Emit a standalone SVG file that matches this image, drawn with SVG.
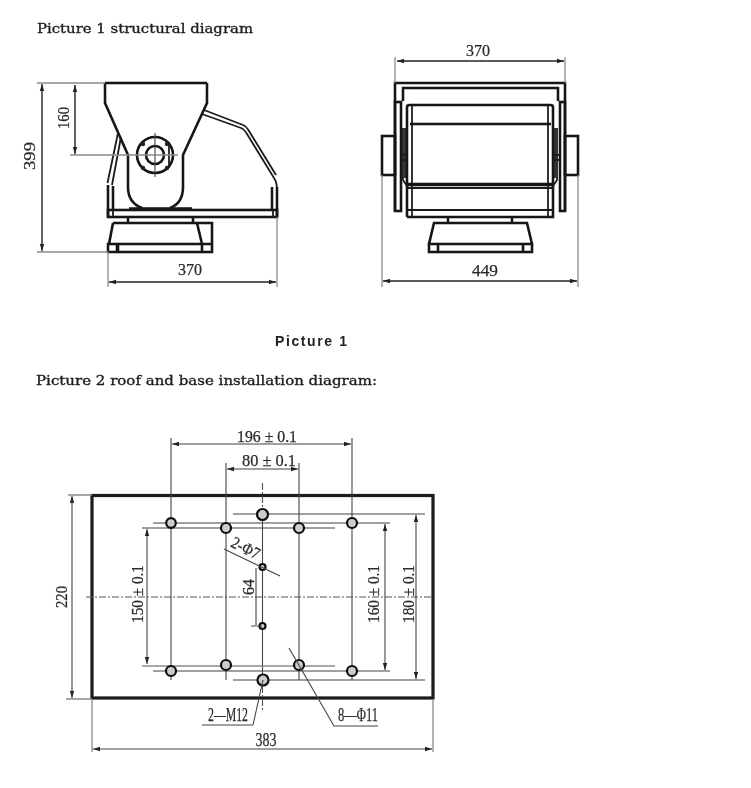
<svg xmlns="http://www.w3.org/2000/svg" width="751" height="788" viewBox="0 0 751 788">
<style>
.o{fill:none;stroke:#1c1c1c;stroke-width:1.8}
.t{fill:none;stroke:#151515;stroke-width:2.6}
.d{fill:none;stroke:#444;stroke-width:1.1}
.k{fill:none;stroke:#222;stroke-width:1.4}
.g{fill:none;stroke:#8a8a8a;stroke-width:1.3}
.c{fill:none;stroke:#555;stroke-width:1.1;stroke-dasharray:7 2 2 2}
.h{fill:#ccc;stroke:#111;stroke-width:2.2}
.a{marker-start:url(#as);marker-end:url(#ae)}
text{font-family:"Liberation Serif","Times New Roman",serif;fill:#2a2a2a;stroke:#2a2a2a;stroke-width:.25}
.n{font-size:17px;text-anchor:middle}
.b{font-size:19px;text-anchor:middle}
.title{font-family:"DejaVu Serif",serif;font-size:13.500px;fill:#1c1c1c;stroke:#1c1c1c;stroke-width:.35}
</style>
<defs>
<marker id="ae" viewBox="0 0 7 6" refX="7" refY="3" markerWidth="7" markerHeight="6" markerUnits="userSpaceOnUse" orient="auto"><path d="M7 3L0 .8V5.200Z" fill="#222"/></marker>
<marker id="as" viewBox="0 0 7 6" refX="0" refY="3" markerWidth="7" markerHeight="6" markerUnits="userSpaceOnUse" orient="auto"><path d="M0 3L7 .8V5.200Z" fill="#222"/></marker>
<filter id="s" x="-2%" y="-2%" width="104%" height="104%"><feGaussianBlur stdDeviation="0.4"/></filter>
</defs>
<rect width="751" height="788" fill="#fff"/>
<g filter="url(#s)">
<text class="title" x="37" y="33" textLength="216" lengthAdjust="spacingAndGlyphs">Picture 1 structural diagram</text>
<text x="275" y="346" style="font-family:'Liberation Sans',sans-serif;font-weight:bold;font-size:14px;fill:#222;stroke:none" textLength="72">Picture 1</text>
<text class="title" x="36" y="385" textLength="341" lengthAdjust="spacingAndGlyphs">Picture 2 roof and base installation diagram:</text>

<g id="side-view">
<path class="t" d="M105 83H207M105 83V103L128 155V187C128 198 134 205 142 208M207 83V103L183 155V187C183 198 178 205 170 208"/>
<path class="o" d="M202 114L241 128Q244 129 247 134L274 178Q277 182 277 190M204 110L243 125Q246 126 249 131L276 175"/>
<path class="o" d="M118 133L107.500 183M121 137L112 185"/>
<path class="t" d="M108 185V217M277 187V217M113 186V210M272 187V210"/>
<rect class="t" x="108" y="210" width="169" height="7"/>
<path class="o" d="M113 210V217M273 210V217"/>
<path class="t" d="M128 217V223M193 217V223M129 208.500H192"/>
<path class="t" d="M113 223H212V252H108V244H212M113 223L109 244"/>
<path class="t" d="M197 223L202 244M117 244V252M118 244V252M202 244V252"/>
<circle class="t" cx="155" cy="155" r="18"/>
<circle class="t" cx="155" cy="155" r="9"/>
<circle cx="143" cy="144" r="2.200" fill="#222"/><circle cx="167" cy="144" r="2.200" fill="#222"/><circle cx="143" cy="168" r="2.200" fill="#222"/><circle cx="167" cy="168" r="2.200" fill="#222"/>
<path class="o" d="M169 142V168"/>
<path class="d" d="M155 133V177"/>
</g>

<g id="front-view">
<path class="t" d="M395 211V83H565V211"/>
<path class="t" d="M403 101V88H558V101"/>
<rect class="t" x="395" y="102" width="6" height="109"/>
<rect class="t" x="560" y="102" width="5" height="109"/>
<rect class="t" x="382" y="136" width="13" height="39"/>
<rect class="t" x="565" y="136" width="13" height="39"/>
<path class="t" d="M407 217V107Q407 105 410 105H550Q553 105 553 107V217H407"/>
<path class="o" d="M412 105V217M548 105V217M407 210H553"/>
<path class="t" d="M410 124H551"/>
<path style="fill:none;stroke:#151515;stroke-width:3.500" d="M407 184.500H553"/>
<path class="o" d="M407 188H553"/>
<path class="o" d="M403 128V180L407 186M557 128V180L553 186M401 155H407M553 155H559M401 160H407M553 160H559M405 128V178M555 128V178"/>
<path class="t" d="M448 217V223M512 217V223"/>
<path class="t" d="M434 223H527L532 244H429ZM429 244H532V252H429ZM438 244V252M523 244V252"/>
</g>

<g id="plan">
<rect x="92" y="495.500" width="341" height="202.500" fill="none" stroke="#1a1a1a" stroke-width="3.200"/>
<path class="c" d="M86 597H436"/>
<path class="c" d="M262.500 483V514M262.500 686V712"/>
<path class="d" d="M171 438V680M352 438V680M226 463V680M299 463V680M262.500 514V680"/>
<path class="d" d="M233 514H425M142 528H335M153 523H390M153 671H390M233 680H425"/>
<path class="g" d="M142 666H335"/>
<g id="holes">
<circle class="h" cx="171" cy="523" r="4.800"/><circle class="h" cx="352" cy="523" r="5"/>
<circle class="h" cx="226" cy="528" r="5"/><circle class="h" cx="299" cy="528" r="5"/>
<circle class="h" cx="262.500" cy="514.500" r="5.500"/><circle class="h" cx="171" cy="671" r="5"/>
<circle class="h" cx="352" cy="671" r="5"/><circle class="h" cx="226" cy="665" r="5"/>
<circle class="h" cx="299" cy="665" r="5"/><circle class="h" cx="263" cy="680" r="5.500"/>
<circle class="h" cx="262.500" cy="567" r="3"/><circle class="h" cx="262.500" cy="626" r="3"/>
</g>
</g>

<g id="connectors">
<path class="g" d="M37 83H105M37 252H108M70 155H178M108 252V287M277 217V287M395 83V57M565 83V57M382 175V287M578 175V287"/>
<path class="k a" d="M42 84V251"/>
<path class="k a" d="M75 85V154"/>
<path class="k a" d="M109 282H276"/>
<path class="k a" d="M397 61H564"/>
<path class="k a" d="M383 281H577"/>
<path class="d a" d="M172 444H351"/>
<path class="d a" d="M227 469H298"/>
<path class="g" d="M68 495H92M66 699H92M92 699V752M433 699V752"/>
<path class="d a" d="M72 496V698"/>
<path class="d a" d="M93 749H432"/>
<path class="d a" d="M147 529V664"/>
<path class="d a" d="M385 524V670"/>
<path class="d a" d="M416 515V679"/>
<path class="d" d="M256 568V625M251 626H262"/>
<path class="d" d="M224 549L280 576M253 725L263 680M202 725H253M289 648L334 726H378"/>
</g>

<g id="labels">
<text class="n" x="478" y="56" textLength="24" lengthAdjust="spacingAndGlyphs">370</text>
<text class="n" x="190" y="275" textLength="24" lengthAdjust="spacingAndGlyphs">370</text>
<text class="n" x="485" y="276" textLength="26" lengthAdjust="spacingAndGlyphs">449</text>
<text class="n" transform="translate(35 156) rotate(-90)" textLength="28" lengthAdjust="spacingAndGlyphs">399</text>
<text class="n" transform="translate(69 118) rotate(-90)" textLength="22" lengthAdjust="spacingAndGlyphs">160</text>
<text class="n" x="267" y="442" textLength="60" lengthAdjust="spacingAndGlyphs">196 ± 0.1</text>
<text class="n" x="269" y="466" textLength="54" lengthAdjust="spacingAndGlyphs">80 ± 0.1</text>
<text class="n" transform="translate(143 594) rotate(-90)" textLength="58" lengthAdjust="spacingAndGlyphs">150 ± 0.1</text>
<text class="n" transform="translate(379 594) rotate(-90)" textLength="58" lengthAdjust="spacingAndGlyphs">160 ± 0.1</text>
<text class="n" transform="translate(414 594) rotate(-90)" textLength="58" lengthAdjust="spacingAndGlyphs">180 ± 0.1</text>
<text class="n" transform="translate(67 597) rotate(-90)" textLength="22" lengthAdjust="spacingAndGlyphs">220</text>
<text class="n" transform="translate(254 587) rotate(-90)" textLength="16" lengthAdjust="spacingAndGlyphs">64</text>
<text class="n" transform="translate(243 553) rotate(27)" textLength="30" lengthAdjust="spacingAndGlyphs">2-Φ7</text>
<text class="b" x="228" y="721" textLength="40" lengthAdjust="spacingAndGlyphs">2—M12</text>
<text class="b" x="358" y="721" textLength="40" lengthAdjust="spacingAndGlyphs">8—Φ11</text>
<text class="b" x="266" y="746" textLength="21" lengthAdjust="spacingAndGlyphs">383</text>
</g>
</g>
</svg>
